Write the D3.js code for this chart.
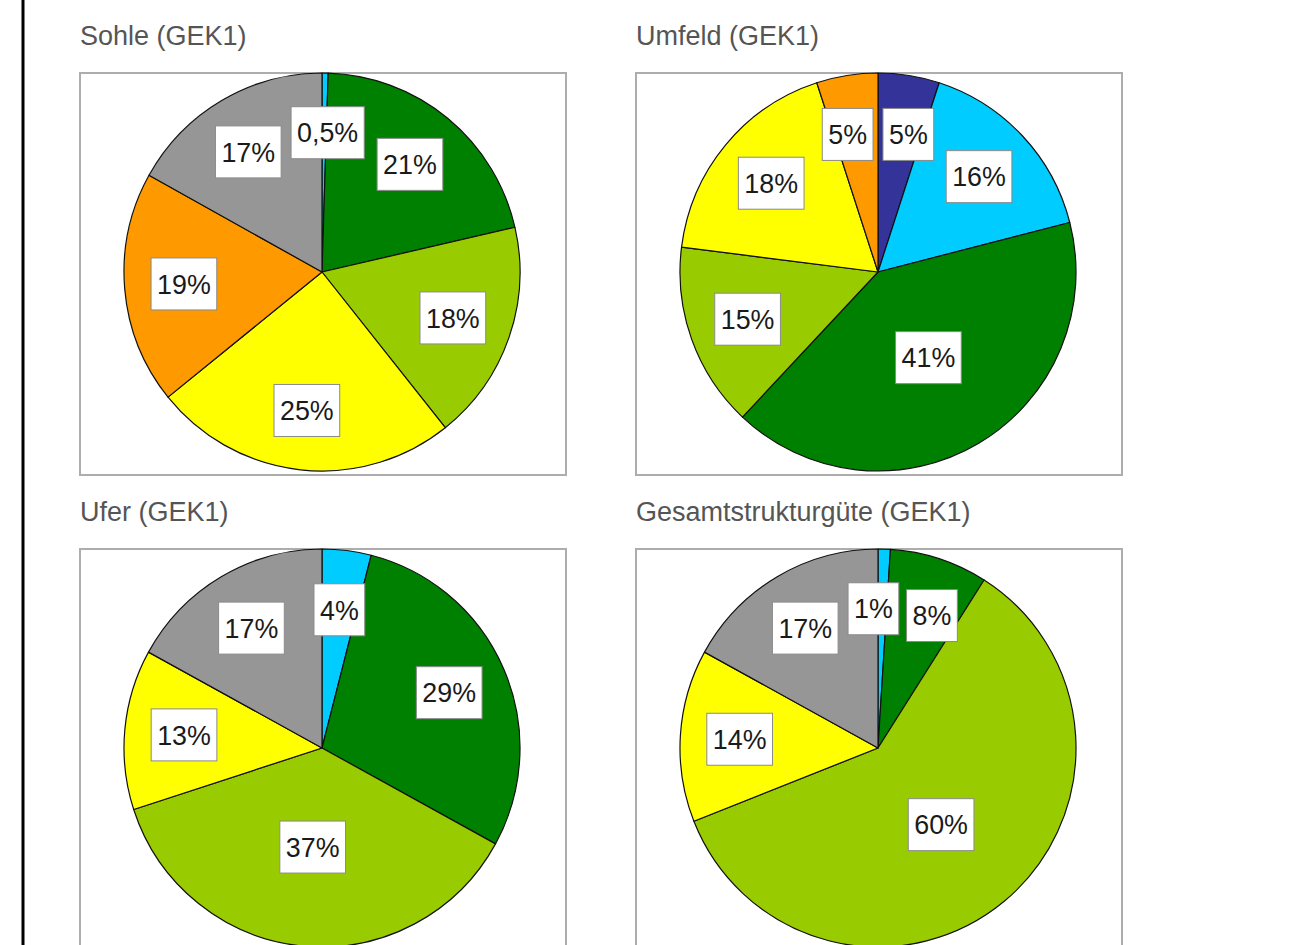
<!DOCTYPE html>
<html>
<head>
<meta charset="utf-8">
<script src="https://cdn.jsdelivr.net/npm/d3@7"></script>
<style>
  body { margin: 0; background: #fff; }
  svg { display: block; }
</style>
</head>
<body>
<script>
// Strukturgueteklassen 1..7 and their colours
const classes = ["1", "2", "3", "4", "5", "6", "7"]
const colors = ["#333399", "#00ccff", "#008000", "#99cc00", "#ffff00", "#ff9900", "#969696"]

const titles = ["Sohle (GEK1)", "Umfeld (GEK1)", "Ufer (GEK1)", "Gesamtstrukturgüte (GEK1)"]

// shares in percent per class (0 = class not present)
const sohle  = [0, 0.5, 21, 18, 25, 19, 17]
const umfeld = [5, 16, 41, 15, 18, 5, 0]
const ufer   = [0, 4, 29, 37, 13, 0, 17]
const gesamt = [0, 1, 8, 60, 14, 0, 17]

const series = [sohle, umfeld, ufer, gesamt]

const width = 1289
const height = 945
const boxW = 486, boxH = 402
const colX = [80, 636]
const rowY = [73, 549]
const r = 199
const labH = 52, gap = 10

const color = d3.scaleOrdinal().domain(classes).range(colors)
const de = d3.formatLocale({decimal: ",", thousands: ".", grouping: [3], currency: ["", "€"]})
const fmt = v => (v < 1 ? de.format(".1f")(v) : de.format(".0f")(v)) + "%"

const pie = d3.pie().sort(null).value(d => d.value)
const arc = d3.arc().innerRadius(0).outerRadius(r)
const labelArcSmall = d3.arc().innerRadius(r * 0.7).outerRadius(r * 0.7)
const labelArcBig = d3.arc().innerRadius(r * 0.5).outerRadius(r * 0.5)

const svg = d3.select("body").append("svg")
    .attr("width", width)
    .attr("height", height)
    .attr("viewBox", [0, 0, width, height])

// black rule on the left
svg.append("rect")
    .attr("x", 21.5).attr("y", 0)
    .attr("width", 3).attr("height", height)
    .attr("fill", "#000")

series.forEach((vals, i) => {
  const bx = colX[i % 2]
  const by = rowY[Math.floor(i / 2)]
  const g = svg.append("g")

  g.append("text")
      .attr("x", bx)
      .attr("y", by - 28)
      .attr("font-family", "Liberation Sans, Arial, sans-serif")
      .attr("font-size", 27)
      .attr("fill", "#555")
      .text(titles[i])

  g.append("rect")
      .attr("x", bx).attr("y", by)
      .attr("width", boxW).attr("height", boxH)
      .attr("fill", "#fff")
      .attr("stroke", "#adadad")
      .attr("stroke-width", 2)

  const data = classes.map((c, j) => ({cls: c, value: vals[j]})).filter(d => d.value > 0)
  const total = d3.sum(data, d => d.value)
  const arcs = pie(data)

  const p = g.append("g")
      .attr("transform", `translate(${bx + 242},${by + 199}) scale(0.995,1)`)

  p.selectAll("path")
    .data(arcs)
    .join("path")
      .attr("d", arc)
      .attr("fill", d => color(d.data.cls))
      .attr("stroke", "#111")
      .attr("stroke-width", 1.2)
      .attr("stroke-linejoin", "round")

  const lab = p.selectAll("g.lab")
    .data(arcs)
    .join("g")
      .attr("class", "lab")

  lab.append("rect")
      .attr("fill", "#fff")
      .attr("stroke", "#8a8a8a")
      .attr("stroke-width", 1)

  lab.append("text")
      .attr("text-anchor", "middle")
      .attr("dy", "0.36em")
      .attr("font-family", "Liberation Sans, Arial, sans-serif")
      .attr("font-size", 27)
      .attr("fill", "#1a1a1a")
      .text(d => fmt(d.data.value))

  // label anchor points and box widths
  const pos = []
  lab.each(function(d) {
    const w = d3.select(this).select("text").node().getComputedTextLength() + 12
    const c = (d.data.value / total > 0.3 ? labelArcBig : labelArcSmall).centroid(d)
    pos.push({x: c[0], y: c[1], w: w})
  })

  // push overlapping neighbours apart sideways (best-fit style)
  for (let k = 0; k < pos.length; k++) {
    const a = pos[k], b = pos[(k + 1) % pos.length]
    if (a === b) continue
    const dx = b.x - a.x
    const need = (a.w + b.w) / 2 + gap - Math.abs(dx)
    if (need > 0 && Math.abs(b.y - a.y) < labH) {
      const s = dx >= 0 ? 1 : -1
      a.x -= s * need / 2
      b.x += s * need / 2
    }
  }

  lab.each(function(d, k) {
    const q = pos[k]
    d3.select(this).attr("transform", `translate(${q.x},${q.y})`)
    d3.select(this).select("rect")
        .attr("x", -q.w / 2).attr("y", -labH / 2)
        .attr("width", q.w).attr("height", labH)
  })
})
</script>
</body>
</html>
